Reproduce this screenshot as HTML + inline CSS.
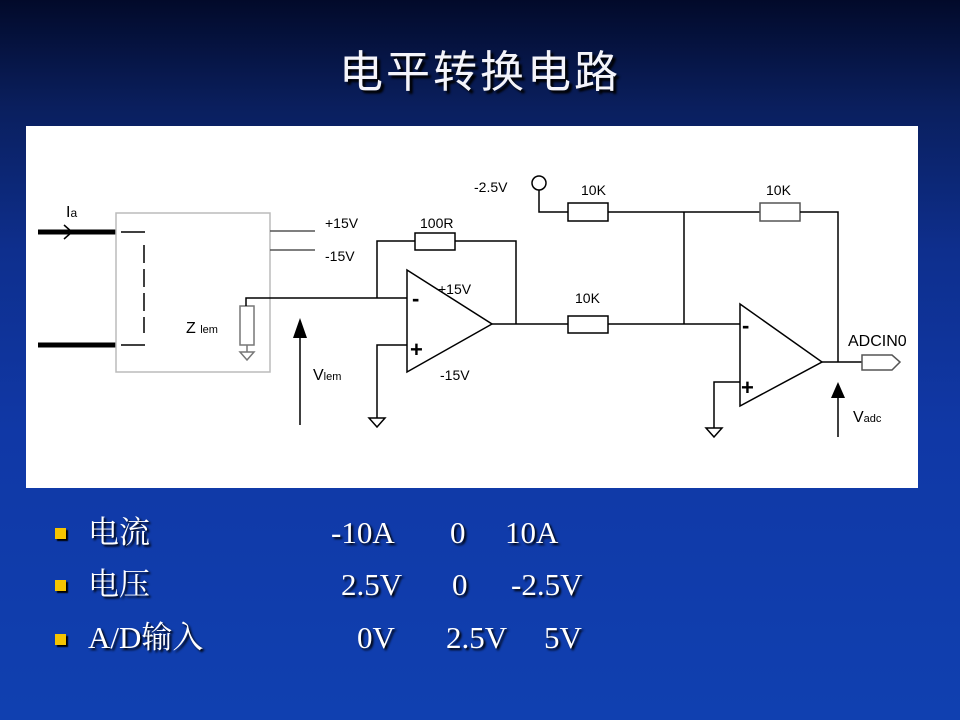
<!DOCTYPE html>
<html><head><meta charset="utf-8"><style>
html,body{margin:0;padding:0}
body{width:960px;height:720px;position:relative;overflow:hidden;
background:linear-gradient(180deg,#020a2a 0%,#0a1f5e 15%,#0e2f8e 35%,#1038a6 60%,#1040b0 100%);
font-family:"Liberation Serif","Noto Serif CJK SC",serif;color:#fff}
.title{position:absolute;left:0;width:960px;top:36px;text-align:center;font-family:"Liberation Sans","Noto Sans CJK SC",sans-serif;font-size:44px;letter-spacing:3px;color:#f4f4fa;text-shadow:3px 3px 2px #000}
.panel{position:absolute;left:26px;top:126px;width:892px;height:362px;background:#fff}
.b{position:absolute;width:11px;height:11px;background:#f5c400;left:55px;box-shadow:2px 2px 1px #000}
.t{position:absolute;font-size:31px;text-shadow:2px 2px 2px #000;white-space:nowrap;line-height:1}
</style></head><body>
<div class="title">电平转换电路</div>
<div class="panel"></div>
<svg width="960" height="720" style="position:absolute;left:0;top:0" font-family="Liberation Sans,sans-serif" font-size="14">
<g stroke="#000" fill="none" stroke-width="1.5">
<line x1="38" y1="232" x2="116" y2="232" stroke-width="5"/>
<line x1="38" y1="345" x2="116" y2="345" stroke-width="5"/>
<polyline points="64,225 72,232 64,239"/>
<rect x="116" y="213" width="154" height="159" stroke="#bbb"/>
<line x1="121" y1="232" x2="145" y2="232"/>
<line x1="121" y1="345" x2="145" y2="345"/>
<line x1="144" y1="245" x2="144" y2="333" stroke-dasharray="18,6"/>
<line x1="270" y1="231" x2="315" y2="231" stroke="#555"/>
<line x1="270" y1="250" x2="315" y2="250" stroke="#555"/>
<rect x="240" y="306" width="14" height="39" stroke="#777"/>
<polyline points="246,306 246,298 270,298" />
<line x1="247" y1="345" x2="247" y2="352" stroke="#777"/>
<polygon points="240,352 254,352 247,360" stroke="#777"/>
<line x1="270" y1="298" x2="407" y2="298"/>
<polyline points="377,298 377,241 415,241"/>
<rect x="415" y="233" width="40" height="17"/>
<polyline points="455,241 516,241 516,324"/>
<polygon points="407,270 492,324 407,372"/>
<polyline points="407,345 377,345 377,418"/>
<polygon points="369,418 385,418 377,427"/>
<line x1="300" y1="425" x2="300" y2="335"/>
<polyline points="492,324 568,324"/>
<rect x="568" y="316" width="40" height="17"/>
<line x1="608" y1="324" x2="740" y2="324"/>
<circle cx="539" cy="183" r="7"/>
<polyline points="539,190 539,212 568,212"/>
<rect x="568" y="203" width="40" height="18"/>
<line x1="608" y1="212" x2="760" y2="212"/>
<rect x="760" y="203" width="40" height="18" stroke="#555"/>
<polyline points="800,212 838,212 838,362"/>
<line x1="684" y1="212" x2="684" y2="324"/>
<polygon points="740,304 822,362 740,406"/>
<polyline points="740,382 714,382 714,428"/>
<polygon points="706,428 722,428 714,437"/>
<line x1="822" y1="362" x2="862" y2="362"/>
<polygon points="862,355 892,355 900,362 892,370 862,370" stroke="#555"/>
<line x1="838" y1="437" x2="838" y2="398"/>
</g>
<polygon points="293,338 307,338 300,318" fill="#000"/>
<polygon points="831,398 845,398 838,382" fill="#000"/>
<g fill="#000" stroke="none">
<text x="66" y="217" font-size="16">I<tspan font-size="12">a</tspan></text>
<text x="325" y="228">+15V</text>
<text x="325" y="261">-15V</text>
<text x="186" y="333" font-size="16">Z <tspan font-size="11">lem</tspan></text>
<text x="420" y="228">100R</text>
<text x="438" y="294">+15V</text>
<text x="412" y="306" font-size="22" font-weight="bold">-</text>
<text x="410" y="357" font-size="22" font-weight="bold">+</text>
<text x="440" y="380">-15V</text>
<text x="313" y="380" font-size="16">V<tspan font-size="11">lem</tspan></text>
<text x="474" y="192">-2.5V</text>
<text x="581" y="195">10K</text>
<text x="766" y="195">10K</text>
<text x="575" y="303">10K</text>
<text x="742" y="333" font-size="22" font-weight="bold">-</text>
<text x="741" y="395" font-size="22" font-weight="bold">+</text>
<text x="848" y="346" font-size="16">ADCIN0</text>
<text x="853" y="422" font-size="16">V<tspan font-size="11">adc</tspan></text>
</g>
</svg>
<div class="b" style="top:528px"></div>
<div class="b" style="top:580px"></div>
<div class="b" style="top:634px"></div>
<div class="t" style="left:88px;top:517px">电流</div>
<div class="t" style="left:331px;top:517px">-10A</div>
<div class="t" style="left:450px;top:517px">0</div>
<div class="t" style="left:505px;top:517px">10A</div>
<div class="t" style="left:88px;top:569px">电压</div>
<div class="t" style="left:341px;top:569px">2.5V</div>
<div class="t" style="left:452px;top:569px">0</div>
<div class="t" style="left:511px;top:569px">-2.5V</div>
<div class="t" style="left:88px;top:622px">A/D输入</div>
<div class="t" style="left:357px;top:622px">0V</div>
<div class="t" style="left:446px;top:622px">2.5V</div>
<div class="t" style="left:544px;top:622px">5V</div>
</body></html>
